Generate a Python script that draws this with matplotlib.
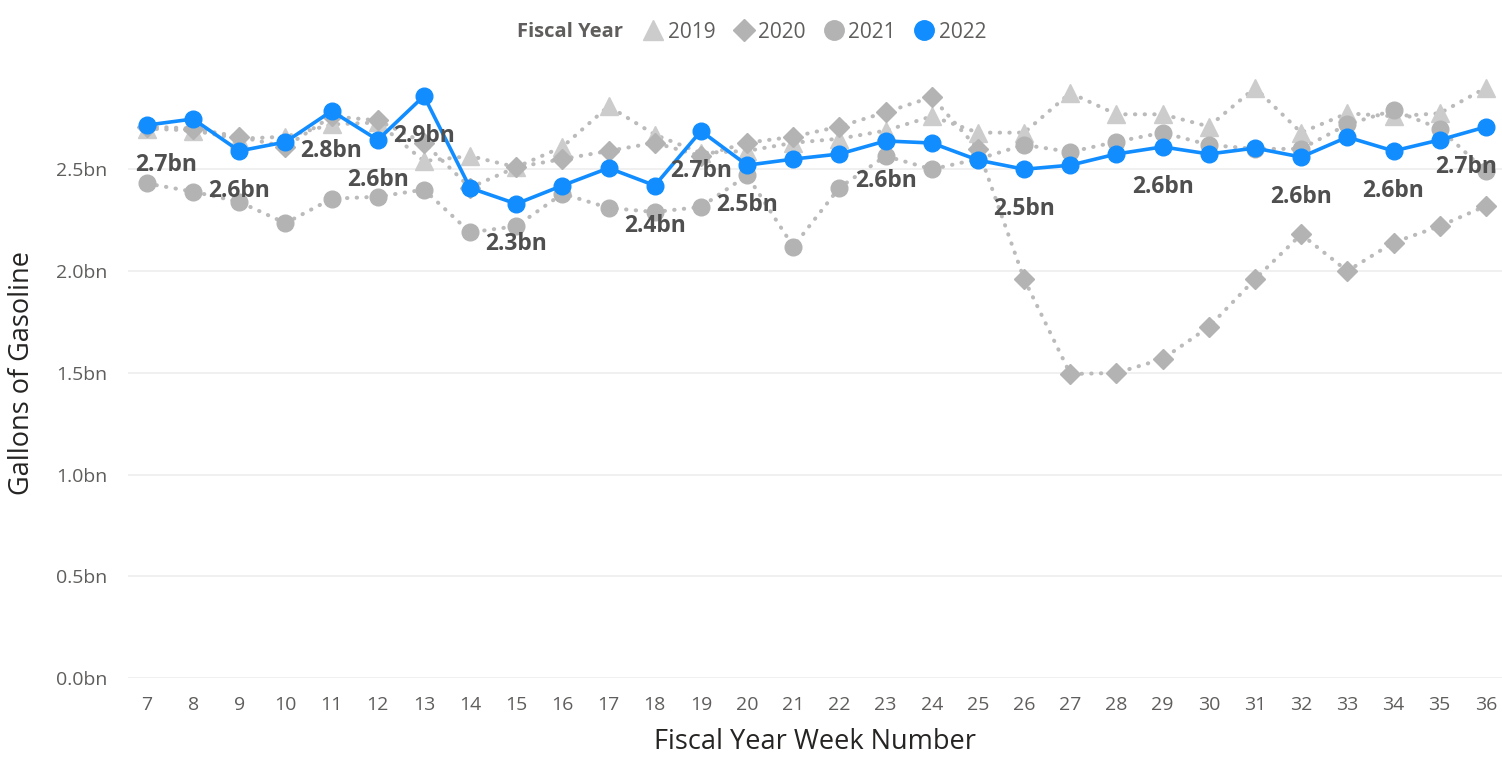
import matplotlib
matplotlib.use("Agg")
import matplotlib.pyplot as plt
from matplotlib.lines import Line2D
from matplotlib.ticker import FuncFormatter

plt.rcParams['font.family'] = ['Open Sans', 'DejaVu Sans']

# data (billions of gallons)
weeks = list(range(7, 37))
fy2019 = [2.70, 2.69, 2.65, 2.66, 2.72, 2.73, 2.54, 2.565, 2.51, 2.61, 2.81, 2.67, 2.58, 2.59, 2.63,
          2.65, 2.69, 2.76, 2.68, 2.68, 2.875, 2.77, 2.77, 2.71, 2.90, 2.68, 2.775, 2.76, 2.775, 2.90]
fy2020 = [2.71, 2.70, 2.66, 2.61, 2.76, 2.74, 2.63, 2.41, 2.51, 2.55, 2.59, 2.63, 2.565, 2.63, 2.66,
          2.71, 2.78, 2.855, 2.60, 1.96, 1.494, 1.499, 1.568, 1.725, 1.96, 2.18, 2.00, 2.14, 2.22, 2.32]
fy2021 = [2.43, 2.39, 2.34, 2.235, 2.355, 2.365, 2.40, 2.19, 2.22, 2.38, 2.31, 2.29, 2.315, 2.47, 2.12,
          2.41, 2.565, 2.50, 2.55, 2.62, 2.585, 2.635, 2.68, 2.62, 2.60, 2.60, 2.72, 2.79, 2.70, 2.49]
fy2022 = [2.717, 2.747, 2.59, 2.634, 2.786, 2.644, 2.86, 2.408, 2.33, 2.42, 2.506, 2.42, 2.688, 2.52, 2.55,
          2.575, 2.639, 2.629, 2.545, 2.50, 2.52, 2.575, 2.61, 2.575, 2.604, 2.56, 2.658, 2.59, 2.644, 2.708]
labelled_weeks = [7, 9, 11, 12, 13, 15, 18, 19, 20, 23, 26, 29, 32, 34, 36]
y_ticks = [0.0, 0.5, 1.0, 1.5, 2.0, 2.5]

BLUE = '#118DFF'
TXT = '#605E5C'
DARK = '#252423'
LBL = '#4F4F4F'

fig = plt.figure(figsize=(15.02, 7.59), dpi=100)
ax = fig.add_axes([128 / 1502, 81 / 759, 1 - 128 / 1502, (678 - 67.5) / 759])

x = list(range(len(weeks)))
dotted = dict(linestyle=(0, (0.1, 2.3)), dash_capstyle='round', linewidth=2.9, color='#BBBBBB')

ax.plot(x, fy2019, marker='^', ms=13, mfc='#CCCCCC', mec='#CCCCCC', zorder=2, **dotted)
ax.plot(x, fy2020, marker='D', ms=10, mfc='#B3B3B3', mec='#B3B3B3', zorder=3, **dotted)
ax.plot(x, fy2021, marker='o', ms=12, mfc='#B3B3B3', mec='#B3B3B3', zorder=4, **dotted)
ax.plot(x, fy2022, marker='o', ms=12, color=BLUE, linewidth=2.6, zorder=5)

# data labels under selected 2022 points
for w in labelled_weeks:
    i = weeks.index(w)
    ha, dx = 'center', 0
    if i == 0:
        ha, dx = 'left', -12
    elif i == len(weeks) - 1:
        ha, dx = 'right', 11
    ax.annotate(f"{fy2022[i]:.1f}bn", (i, fy2022[i]), xytext=(dx, -40),
                textcoords='offset pixels', ha=ha, va='center',
                fontsize=16.5, fontweight='bold', color=LBL, zorder=6)

ax.set_xlim(-0.41, len(weeks) - 1 + 0.35)
ax.set_ylim(0, 3.0)
ax.set_xticks(x)
ax.set_xticklabels([str(w) for w in weeks])
ax.set_yticks(y_ticks)
ax.yaxis.set_major_formatter(FuncFormatter(lambda v, p: f"{v:.1f}bn"))
ax.tick_params(axis='both', length=0, labelsize=14, labelcolor=TXT)
ax.tick_params(axis='x', pad=13)
ax.tick_params(axis='y', pad=15)
ax.grid(axis='y', color='#EDEDED', linewidth=1.2)
ax.set_axisbelow(True)
for s in ax.spines.values():
    s.set_visible(False)

ax.set_xlabel('Fiscal Year Week Number', fontsize=19.5, color=DARK, labelpad=10)
ax.set_ylabel('Gallons of Gasoline', fontsize=19.5, color=DARK, labelpad=14)

# legend
handles = [
    Line2D([], [], linestyle='none', marker='^', ms=14, color='#CCCCCC'),
    Line2D([], [], linestyle='none', marker='D', ms=11, color='#B3B3B3'),
    Line2D([], [], linestyle='none', marker='o', ms=14, color='#B3B3B3'),
    Line2D([], [], linestyle='none', marker='o', ms=14, color=BLUE),
]
leg = fig.legend(handles, ['2019', '2020', '2021', '2022'], ncol=4, frameon=False,
                 loc='center', bbox_to_anchor=(815 / 1502, 1 - 32 / 759),
                 fontsize=15, handlelength=0.9, handletextpad=0.25, columnspacing=0.9)
for t in leg.get_texts():
    t.set_color(TXT)
fig.text(623 / 1502, 1 - 32 / 759, 'Fiscal Year', ha='right', va='center',
         fontsize=14.5, fontweight='bold', color=TXT)

fig.savefig('out.png', dpi=100)
